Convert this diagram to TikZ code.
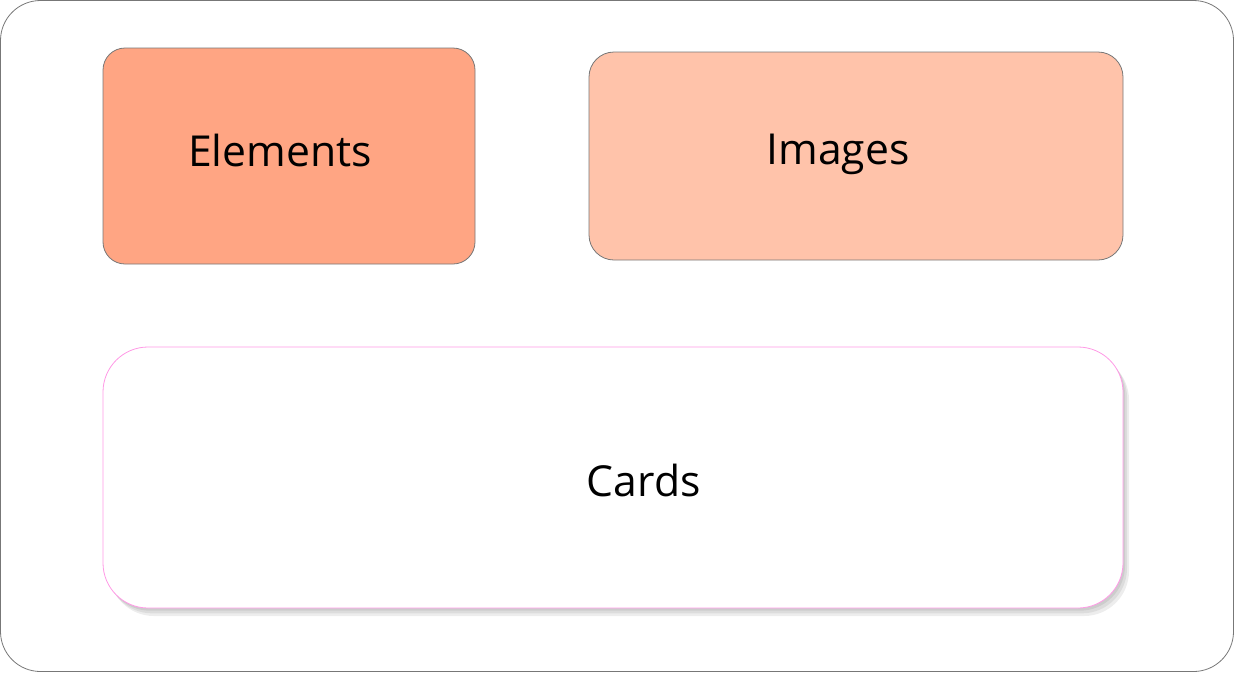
\documentclass[tikz,border=0pt]{standalone}
\usepackage{fontspec}
\setmainfont{Open Sans}
\usetikzlibrary{positioning,shadows}
\definecolor{framegray}{HTML}{777777}
\definecolor{elemfill}{HTML}{FFA583}
\definecolor{imgfill}{HTML}{FFC3AA}
\definecolor{cardpink}{HTML}{FF99E6}
\tikzset{
    every picture/.style={line width=0.6pt},
    block/.style={rectangle,draw=framegray,inner sep=0pt,font=\fontsize{32}{38}\selectfont},
    tag/.style={font=\fontsize{32}{38}\selectfont,inner sep=0pt},
    softshadow/.style={
        drop shadow={opacity=0.07,fill=black,draw=none,shadow xshift=4.5pt,shadow yshift=-6pt},
        drop shadow={opacity=0.07,fill=black,draw=none,shadow xshift=3pt,shadow yshift=-4pt},
        drop shadow={opacity=0.07,fill=black,draw=none,shadow xshift=1.5pt,shadow yshift=-2pt}}
}

\begin{document}
\begin{tikzpicture}[x=0.75pt,y=-0.75pt]
        \useasboundingbox (0,0) rectangle (1234,672);

        % Outer frame
        \draw[framegray,rounded corners=30pt] (0.5,0.5) rectangle (1233.5,671.5);

        % Top row
        \node[block,fill=elemfill,rounded corners=16.5pt,minimum width=279pt,minimum height=162pt,
              label={[tag,xshift=-6.75pt,yshift=4.5pt]center:Elements}] (elements) at (289,156) {};
        \node[block,fill=imgfill,rounded corners=18.75pt,minimum width=400.5pt,minimum height=156pt,
              label={[tag,xshift=-13.5pt,yshift=1.5pt]center:Images}] (images) at (856,156) {};

        % Bottom card
        \node[block,draw=cardpink,fill=white,rounded corners=33.75pt,minimum width=765pt,minimum height=195.75pt,
              softshadow,
              label={[tag,xshift=23pt,yshift=-2pt]center:Cards}] (cards) at (613,477.5) {};
\end{tikzpicture}
\end{document}
